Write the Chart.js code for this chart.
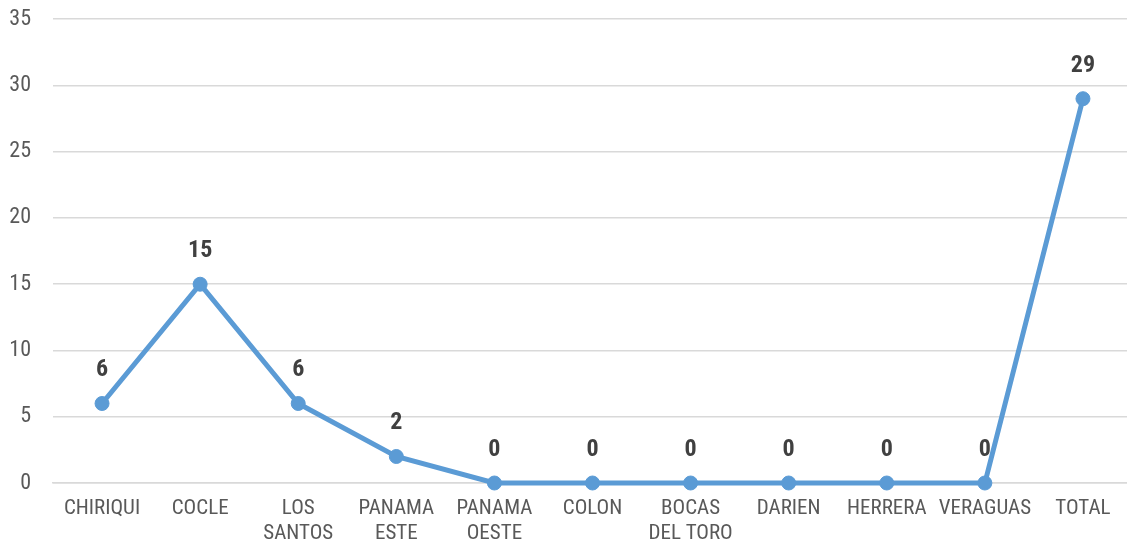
<!DOCTYPE html>
<html>
<head>
<meta charset="utf-8">
<script src="https://cdn.jsdelivr.net/npm/chart.js@4"></script>
<style>
	html, body { margin: 0; padding: 0; background: #fff; overflow: hidden; }
	.wrap { position: absolute; left: 0; top: -16px; width: 1140px; height: 562px; }
</style>
</head>
<body>
<div class="wrap"><canvas id="chart"></canvas></div>
<script>
var categories = ['CHIRIQUI', 'COCLE', ['LOS', 'SANTOS'], ['PANAMA', 'ESTE'], ['PANAMA', 'OESTE'], 'COLON', ['BOCAS', 'DEL TORO'], 'DARIEN', 'HERRERA', 'VERAGUAS', 'TOTAL'];
var values = [6, 15, 6, 2, 0, 0, 0, 0, 0, 0, 29];
var yTicks = [0, 5, 10, 15, 20, 25, 30, 35];

var fontFamily = '"Liberation Sans Narrow", "Arial Narrow", "Roboto Condensed", Roboto, "Liberation Sans", Arial, sans-serif';

// labels above the points
var pointLabels = {
	id: 'pointLabels',
	afterDatasetsDraw: function (chart) {
		var ctx = chart.ctx;
		var meta = chart.getDatasetMeta(0);
		ctx.save();
		ctx.font = 'bold 24px ' + fontFamily;
		ctx.fillStyle = '#404040';
		ctx.textAlign = 'center';
		ctx.textBaseline = 'middle';
		meta.data.forEach(function (pt, i) {
			ctx.fillText(values[i], pt.x, pt.y - 33);
		});
		ctx.restore();
	}
};

new Chart(document.getElementById('chart'), {
	type: 'line',
	data: {
		labels: categories,
		datasets: [{
			data: values,
			borderColor: '#5B9BD5',
			backgroundColor: '#5B9BD5',
			borderWidth: 5,
			pointRadius: 7,
			pointBorderWidth: 1,
			pointBackgroundColor: '#5B9BD5',
			pointBorderColor: '#5B9BD5',
			tension: 0,
			clip: false
		}]
	},
	options: {
		responsive: true,
		maintainAspectRatio: false,
		animation: false,
		layout: {
			padding: { top: 1, right: 2, left: 0, bottom: 0 }
		},
		scales: {
			x: {
				offset: true,
				grid: { display: false, drawTicks: false },
				border: { display: true, color: '#d9d9d9', width: 1.5 },
				ticks: {
					color: '#595959',
					font: { family: fontFamily, size: 21 },
					padding: 13,
					maxRotation: 0,
					autoSkip: false
				},
				afterFit: function (scale) { scale.height = 63; }
			},
			y: {
				min: 0,
				max: 35,
				afterBuildTicks: function (scale) {
					scale.ticks = yTicks.map(function (v) { return { value: v }; });
				},
				grid: { color: '#d9d9d9', lineWidth: 1.5, drawTicks: false },
				border: { display: false },
				ticks: {
					color: '#595959',
					font: { family: fontFamily, size: 22 },
					padding: 22
				},
				afterFit: function (scale) { scale.width = 53; }
			}
		},
		plugins: {
			legend: { display: false },
			tooltip: { enabled: false }
		}
	},
	plugins: [pointLabels]
});
</script>
</body>
</html>
